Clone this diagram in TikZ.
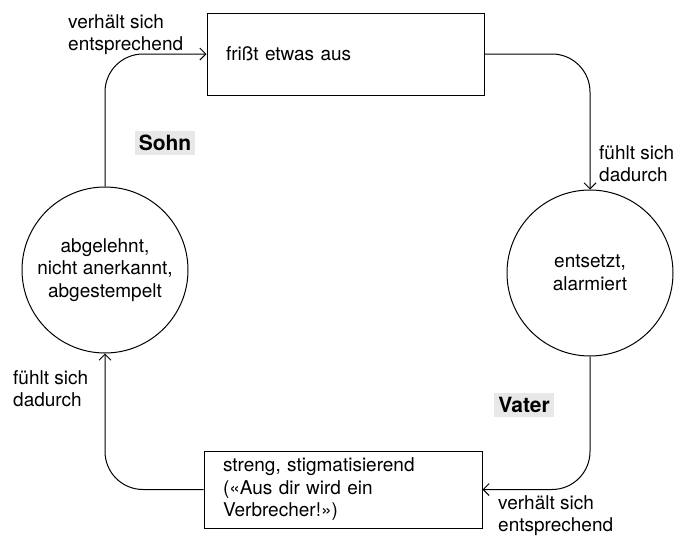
\documentclass[tikz,border=0pt]{standalone}
\usepackage{fontspec}
\setmainfont{TeX Gyre Heros}
\usetikzlibrary{arrows.meta}
\begin{document}
\begin{tikzpicture}[x=1pt,y=-1pt,
  txt/.style={font=\fontsize{19}{22.5}\selectfont, inner sep=0pt},
  lbl/.style={txt, align=left, anchor=north west},
  who/.style={font=\fontsize{21}{24}\selectfont\bfseries, fill=black!9, inner sep=4pt},
  state/.style={circle, draw, line width=1pt, minimum size=166pt, txt, align=center},
  act/.style={draw, line width=1pt, txt, align=left, inner xsep=19pt, inner ysep=3pt},
  flow/.style={line width=1pt, -{Straight Barb[length=6pt,width=12pt]}, rounded corners=38pt}
]
\useasboundingbox (0,0) rectangle (681,536);

\node[act, text width=239pt, minimum height=82pt] (tb) at (345.5,54) {frißt etwas aus};
\node[act, text width=240pt, minimum height=77pt] (bb) at (343,489.5) {streng, stigmatisierend\\(«Aus dir wird ein\\Verbrecher!»)};
\node[state] (lc) at (105,270) {abgelehnt,\\nicht anerkannt,\\abgestempelt};
\node[state] (rc) at (590,273) {entsetzt,\\alarmiert};

\draw[flow] (lc.north) |- (tb.west);
\draw[flow] (tb.east) -| (rc.north);
\draw[flow] (rc.south) |- (bb.east);
\draw[flow] (bb.west) -| (lc.south);

\node[lbl] (l1) at (68,14) {verhält sich\\entsprechend};
\node[lbl] (l2) at (599,145) {fühlt sich\\dadurch};
\node[lbl] (l3) at (13,370) {fühlt sich\\dadurch};
\node[lbl] (l4) at (498,495) {verhält sich\\entsprechend};
\node[who] (sohn) at (165,143) {Sohn};
\node[who] (vater) at (524,405) {Vater};
\end{tikzpicture}
\end{document}
